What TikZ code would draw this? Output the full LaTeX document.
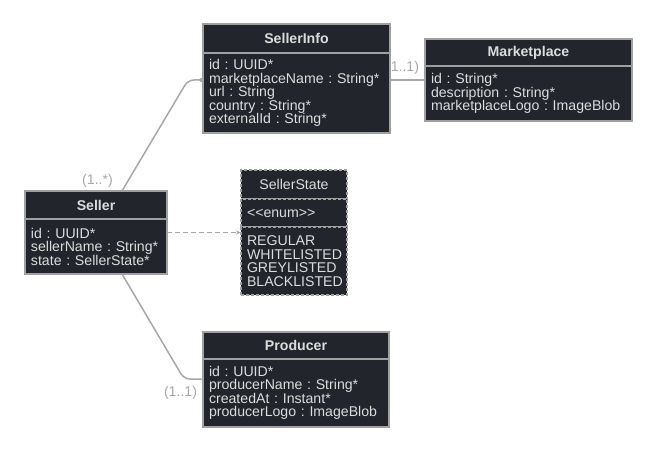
\documentclass[tikz,border=0pt]{standalone}
\usepackage{fontspec}
\setmainfont{Liberation Sans}
\usetikzlibrary{positioning,arrows.meta}
\definecolor{boxfill}{RGB}{34,37,43}
\definecolor{boxline}{RGB}{160,160,160}
\definecolor{boxtext}{RGB}{220,220,220}
\definecolor{linkgray}{RGB}{168,168,168}
\def\pxu{0.75pt}

\begin{document}
\begin{tikzpicture}[x=\pxu, y=-\pxu]
\tikzstyle{cls} = [draw=boxline, fill=boxfill, text=boxtext, line width=1.5*\pxu, inner sep=0pt, outer sep=0pt, font=\frenchspacing\fontsize{10.6}{10.1}\selectfont]
\tikzstyle{head} = [cls, font=\bfseries\fontsize{10.6}{10.1}\selectfont]
\tikzstyle{attrs} = [cls, align=left, inner xsep=6*\pxu]
\tikzset{link/.style={draw=linkgray, line width=1.5*\pxu}, mult/.style={text=linkgray, inner sep=0pt, font=\fontsize{10.6}{12}\selectfont}}
\useasboundingbox[fill=white] (0,0) rectangle (657,452);

% classes
\node[head, minimum width=142*\pxu, minimum height=28*\pxu] (sellerHead) at (96,205) {Seller};
\node[attrs, text width=130*\pxu, minimum height=55*\pxu, below=0pt of sellerHead] (sellerBody) {id : UUID*\\sellerName : String*\\state : SellerState*};

\node[head, minimum width=187*\pxu, minimum height=29*\pxu] (infoHead) at (296.5,38.5) {SellerInfo};
\node[attrs, text width=175*\pxu, minimum height=80*\pxu, below=0pt of infoHead] (infoBody) {id : UUID*\\marketplaceName : String*\\url : String\\country : String*\\externalId : String*};

\node[head, minimum width=207*\pxu, minimum height=27*\pxu] (marketHead) at (528.5,52.5) {Marketplace};
\node[attrs, text width=195*\pxu, minimum height=55*\pxu, below=0pt of marketHead] (marketBody) {id : String*\\description : String*\\marketplaceLogo : ImageBlob};

\node[head, minimum width=186*\pxu, minimum height=27*\pxu] (producerHead) at (296,345.5) {Producer};
\node[attrs, text width=174*\pxu, minimum height=68*\pxu, below=0pt of producerHead] (producerBody) {id : UUID*\\producerName : String*\\createdAt : Instant*\\producerLogo : ImageBlob};

% enum
\tikzset{enumline/.style={dash pattern=on 2.25pt off 1.5pt}}
\node[cls, enumline, minimum width=106*\pxu, minimum height=29*\pxu] (stateHead) at (294,184.5) {SellerState};
\node[attrs, enumline, text width=94*\pxu, minimum height=28*\pxu, below=0pt of stateHead] (stateStereo) {<\kern0pt<enum>\kern0pt>};
\node[attrs, enumline, text width=94*\pxu, minimum height=68*\pxu, below=0pt of stateStereo] (stateBody) {REGULAR\\WHITELISTED\\GREYLISTED\\BLACKLISTED};

% links
\draw[link, rounded corners=6*\pxu, -{Circle[length=4*\pxu]}] ([xshift=26*\pxu]sellerHead.north) -- ([xshift=-15*\pxu, yshift=13*\pxu]infoBody.west) -- ([yshift=13*\pxu]infoBody.west);
\draw[link, rounded corners=6*\pxu] ([xshift=26*\pxu]sellerBody.south) -- ([xshift=-19*\pxu, yshift=14*\pxu]producerBody.west) -- ([yshift=14*\pxu]producerBody.west);
\draw[link, dash pattern=on 3.75pt off 2.25pt, -{Stealth[length=5*\pxu, width=4*\pxu]}] ([yshift=14*\pxu]sellerBody.east) -- ([yshift=14*\pxu]sellerBody.east -| stateBody.west);
\draw[link] ([yshift=13*\pxu]infoBody.east) -- ([yshift=13*\pxu]infoBody.east -| marketBody.west);

% multiplicities
\node[mult] (multSeller) at (97.5,181) {(1..*)};
\node[mult, anchor=west] (multMarket) at (390.5,68) {1..1)};
\node[mult] (multProducer) at (180.5,393) {(1..1)};
\end{tikzpicture}
\end{document}
